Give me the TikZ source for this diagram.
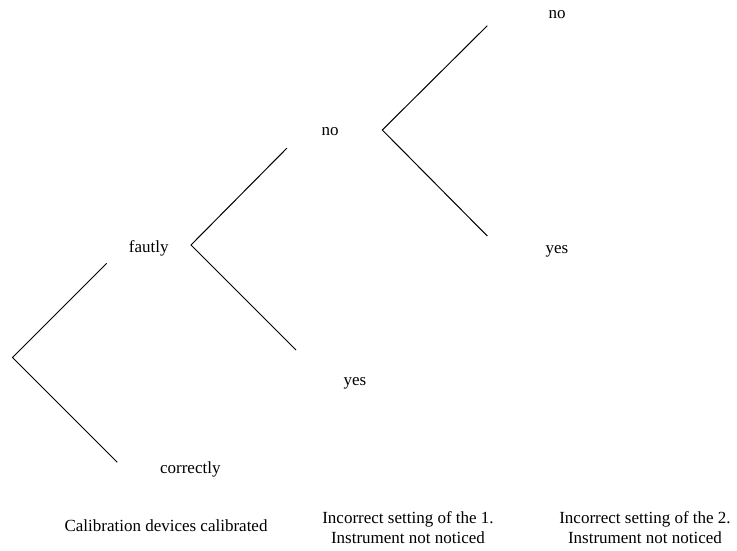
\documentclass[tikz,border=0pt]{standalone}
\usepackage{fontspec}
\setmainfont{Liberation Serif}
\begin{document}
\begin{tikzpicture}[x=1pt,y=-1pt,
  lbl/.style={anchor=base,inner sep=0pt,font=\fontsize{17}{20}\selectfont},
  lbl2/.style={anchor=north,inner sep=0pt,align=center,font=\fontsize{17}{20}\selectfont},
  branch/.style={draw=black,line width=1pt}]
\useasboundingbox (0,0) rectangle (737,550);
% vertices and branch ends
\coordinate (r) at (12.5,357.5);
\coordinate (r1) at (106.7,263.3);
\coordinate (r2) at (117.3,462.3);
\coordinate (f) at (191,245);
\coordinate (f1) at (287,148);
\coordinate (f2) at (296,350);
\coordinate (n) at (382.3,130);
\coordinate (n1) at (487.3,25.7);
\coordinate (n2) at (487.3,236);
% labels
\node[lbl] (fautly) at (148.8,252.5) {fautly};
\node[lbl] (correctly) at (190.3,473) {correctly};
\node[lbl] (no1) at (330,135) {no};
\node[lbl] (yes1) at (355,385) {yes};
\node[lbl] (no2) at (557,18) {no};
\node[lbl] (yes2) at (557,253.5) {yes};
\node[lbl] (c1) at (166,531.5) {Calibration devices calibrated};
\node[lbl2] (c2) at (408,511) {Incorrect setting of the 1.\\Instrument not noticed};
\node[lbl2] (c3) at (645,511) {Incorrect setting of the 2.\\Instrument not noticed};
% branches
\draw[branch] (r1) -- (r) -- (r2);
\draw[branch] (f1) -- (f) -- (f2);
\draw[branch] (n1) -- (n) -- (n2);
\end{tikzpicture}
\end{document}
